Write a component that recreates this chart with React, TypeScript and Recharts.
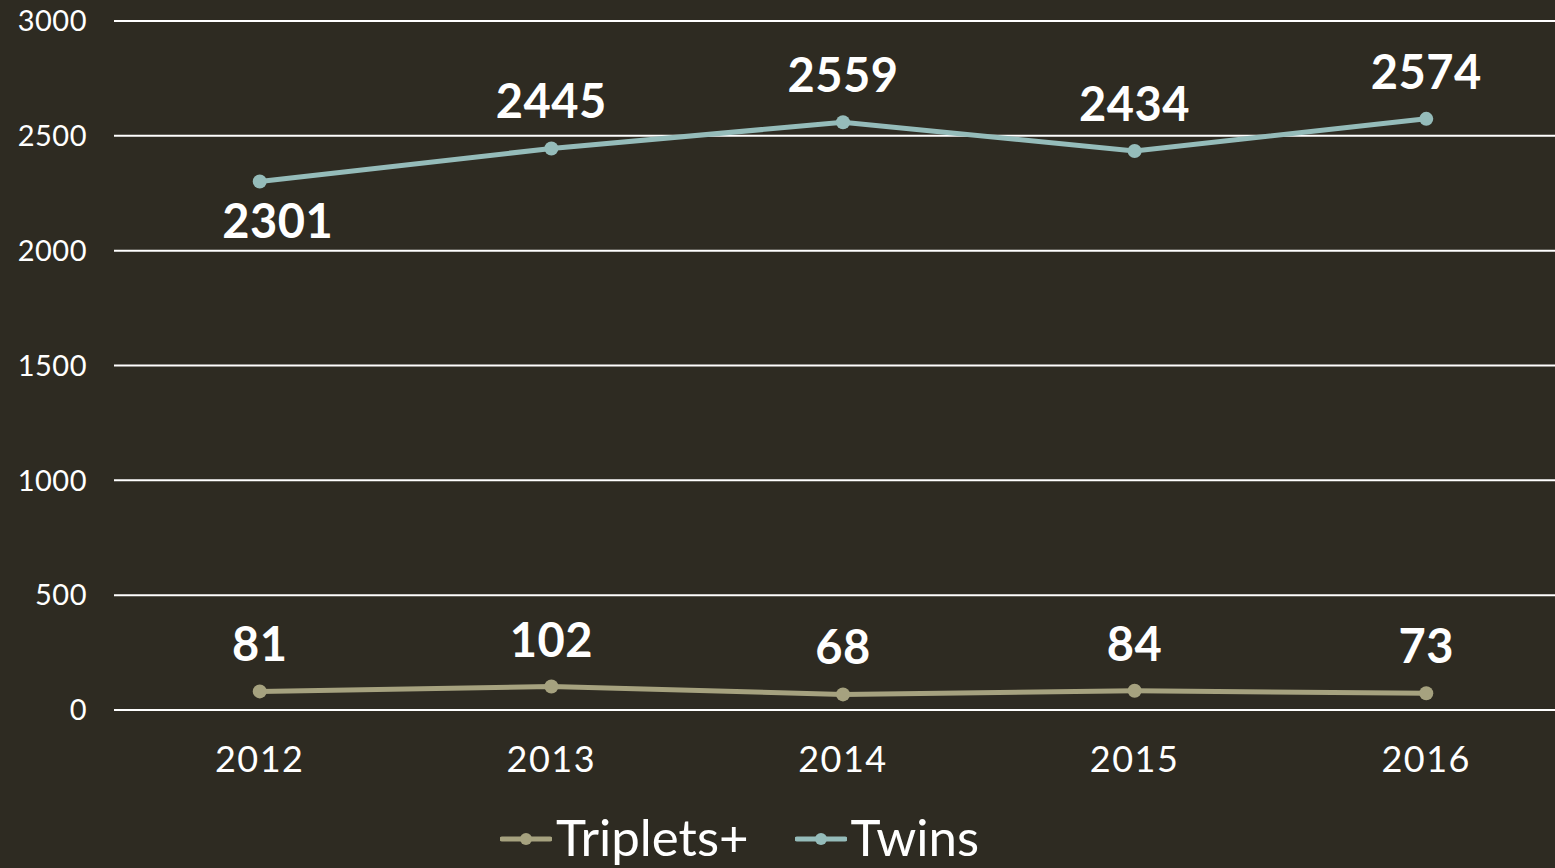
import React from 'react';
import { LineChart, Line, XAxis, YAxis, CartesianGrid, Legend, LabelList } from 'recharts';

const years = ['2012', '2013', '2014', '2015', '2016'];
const twins = [2301, 2445, 2559, 2434, 2574];
const triplets = [81, 102, 68, 84, 73];
const yTicks = [0, 500, 1000, 1500, 2000, 2500, 3000];

const BG = '#2e2b22';
const TWINS = '#95bcba';
const TRIPLETS = '#a6a27f';
const FONT = 'Lato, "Open Sans", sans-serif';

const data = years.map((year, i) => ({ year, twins: twins[i], triplets: triplets[i] }));

// twins label for 2012 sits under the point, everything else above
const makeLabel = (series: 'twins' | 'triplets') => (props: any) => {
  const { x, y, value, index } = props;
  const below = series === 'twins' && index === 0;
  return (
    <text
      x={x + (below ? 18 : 0)}
      y={below ? y + 56 : y - 30}
      textAnchor="middle"
      fill="#ffffff"
      fontSize={47}
      fontWeight={700}
      fontFamily={FONT}
      letterSpacing={0.5}
    >
      {value}
    </text>
  );
};

const legendItems = [
  { name: 'Triplets+', color: TRIPLETS },
  { name: 'Twins', color: TWINS },
];

function ChartLegend() {
  return (
    <div
      style={{
        display: 'flex',
        justifyContent: 'center',
        alignItems: 'center',
        gap: 46,
        height: 78,
        paddingTop: 16,
        paddingRight: 76,
        boxSizing: 'border-box',
      }}
    >
      {legendItems.map((item) => (
        <div key={item.name} style={{ display: 'flex', alignItems: 'center' }}>
          <svg width={52} height={20} style={{ marginRight: 4, marginTop: 4 }}>
            <line x1={2} y1={10} x2={50} y2={10} stroke={item.color} strokeWidth={5} strokeLinecap="round" />
            <circle cx={26} cy={10} r={6} fill={item.color} />
          </svg>
          <span style={{ color: '#ffffff', fontSize: 51, fontFamily: FONT, fontWeight: 400, lineHeight: '60px' }}>
            {item.name}
          </span>
        </div>
      ))}
    </div>
  );
}

export default function App() {
  return (
    <div
      style={{
        position: 'absolute',
        top: 0,
        left: 0,
        width: 1555,
        height: 868,
        overflow: 'hidden',
        background: BG,
      }}
    >
      <LineChart width={1572} height={868} data={data} margin={{ top: 21, right: 0, bottom: 0, left: 0 }}>
        <CartesianGrid vertical={false} stroke="#ffffff" strokeWidth={2} />
        <XAxis
          dataKey="year"
          axisLine={false}
          tickLine={false}
          tickSize={0}
          tickMargin={36}
          height={80}
          padding={{ left: 145.75, right: 145.75 }}
          tick={{ fill: '#ffffff', fontSize: 36, fontFamily: FONT, letterSpacing: 1.5 }}
        />
        <YAxis
          domain={[0, 3000]}
          ticks={yTicks}
          width={114}
          axisLine={false}
          tickLine={false}
          tickSize={0}
          tickMargin={27}
          tick={{ fill: '#ffffff', fontSize: 29, fontFamily: FONT, letterSpacing: 0.5 }}
        />
        <Legend verticalAlign="bottom" height={78} content={() => <ChartLegend />} wrapperStyle={{ left: 0, width: 1555 }} />
        <Line
          dataKey="triplets"
          name="Triplets+"
          stroke={TRIPLETS}
          strokeWidth={5}
          dot={{ r: 7, fill: TRIPLETS, strokeWidth: 0 }}
          isAnimationActive={false}
        >
          <LabelList dataKey="triplets" content={makeLabel('triplets')} />
        </Line>
        <Line
          dataKey="twins"
          name="Twins"
          stroke={TWINS}
          strokeWidth={5}
          dot={{ r: 7, fill: TWINS, strokeWidth: 0 }}
          isAnimationActive={false}
        >
          <LabelList dataKey="twins" content={makeLabel('twins')} />
        </Line>
      </LineChart>
    </div>
  );
}
